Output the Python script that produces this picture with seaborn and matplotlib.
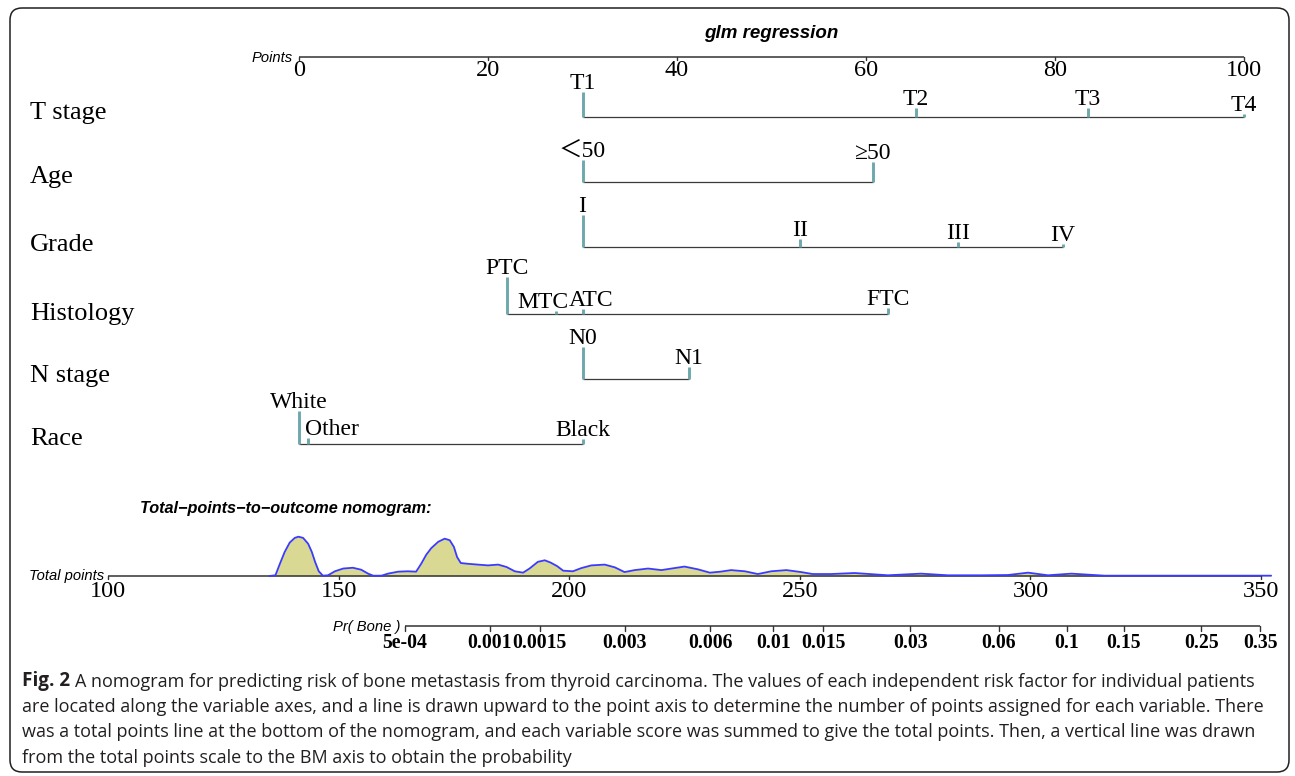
import numpy as np
import pandas as pd
import matplotlib
matplotlib.use("Agg")
import matplotlib.pyplot as plt
import matplotlib.transforms as mtrans
from matplotlib.patches import FancyBboxPatch
import seaborn as sns

# ---------------- data ----------------
title = "glm regression"
points_ticks = [0, 20, 40, 60, 80, 100]

var_names = ["T stage", "Age", "Grade", "Histology", "N stage", "Race"]
t_levels = ["T1", "T2", "T3", "T4"]
t_points = [30.0, 65.3, 83.5, 100.0]
t_freq = [0.65, 0.22, 0.24, 0.08]
age_levels = ["\uff1c50", "\u226550"]
age_points = [30.0, 60.7]
age_freq = [0.59, 0.54]
grade_levels = ["I", "II", "III", "IV"]
grade_points = [30.0, 53.0, 69.7, 80.8]
grade_freq = [0.84, 0.19, 0.11, 0.08]
hist_levels = ["PTC", "MTC", "ATC", "FTC"]
hist_points = [22.0, 27.2, 30.0, 62.3]
hist_freq = [1.0, 0.08, 0.11, 0.14]
n_levels = ["N0", "N1"]
n_points = [30.0, 41.3]
n_freq = [0.84, 0.32]
race_levels = ["White", "Other", "Black"]
race_points = [0.0, 1.0, 30.0]
race_freq = [0.89, 0.16, 0.14]

total_ticks = [100, 150, 200, 250, 300, 350]
prob_ticks = [5e-4, 0.001, 0.0015, 0.003, 0.006, 0.01, 0.015, 0.03,
              0.06, 0.1, 0.15, 0.25, 0.35]
prob_labels = ["5e-04", "0.001", "0.0015", "0.003", "0.006", "0.01", "0.015",
               "0.03", "0.06", "0.1", "0.15", "0.25", "0.35"]
lp_intercept = -13.79
lp_per_point = 0.03765

density_points = [135.0, 136.3, 137.2, 138.3, 139.4, 140.5, 141.3, 142.3, 143.4,
                  144.2, 144.9, 145.7, 146.6, 147.7, 149.2, 151.0, 153.1, 154.9,
                  156.4, 157.5, 159.3, 160.7, 162.9, 165.0, 166.8, 167.9, 169.0,
                  170.1, 171.6, 173.0, 174.1, 175.0, 175.7, 176.5, 178.1, 180.2,
                  182.4, 184.6, 186.4, 188.2, 190.0, 191.4, 193.2, 194.7, 196.0,
                  197.4, 198.7, 200.8, 202.6, 204.8, 207.7, 209.9, 212.0, 214.2,
                  217.1, 220.0, 222.2, 225.0, 227.9, 230.5, 232.8, 235.1, 238.1,
                  240.9, 243.8, 247.1, 250.3, 252.8, 256.8, 261.9, 269.1, 276.3,
                  282.1, 289.3, 295.1, 299.5, 303.8, 308.9, 316.1, 330.0, 352.2]
density_values = [0.0, 0.018, 0.29, 0.61, 0.85, 0.97, 1.0, 0.97, 0.82,
                  0.61, 0.36, 0.12, 0.008, 0.018, 0.12, 0.19, 0.21, 0.16,
                  0.06, 0.008, 0.008, 0.06, 0.11, 0.12, 0.11, 0.31, 0.54,
                  0.71, 0.87, 0.95, 0.91, 0.74, 0.48, 0.33, 0.31, 0.29,
                  0.27, 0.29, 0.23, 0.12, 0.085, 0.19, 0.36, 0.40, 0.34,
                  0.25, 0.135, 0.12, 0.20, 0.27, 0.29, 0.22, 0.10, 0.15,
                  0.19, 0.15, 0.19, 0.24, 0.17, 0.085, 0.11, 0.15, 0.12,
                  0.05, 0.12, 0.15, 0.10, 0.05, 0.05, 0.076, 0.018, 0.06,
                  0.018, 0.018, 0.025, 0.085, 0.018, 0.06, 0.008, 0.008, 0.008]

caption_bold = "Fig. 2"
caption_lines = [
    "A nomogram for predicting risk of bone metastasis from thyroid carcinoma. The values of each independent risk factor for individual patients",
    "are located along the variable axes, and a line is drawn upward to the point axis to determine the number of points assigned for each variable. There",
    "was a total points line at the bottom of the nomogram, and each variable score was summed to give the total points. Then, a vertical line was drawn",
    "from the total points scale to the BM axis to obtain the probability",
]

# ---------------- style / layout ----------------
W, H, DPI = 1295, 776, 100
sns.set_theme(style="white")
SERIF = ["Liberation Serif", "Noto Sans CJK SC", "DejaVu Serif"]
SANS = ["Liberation Sans", "DejaVu Sans"]
CAP = ["Open Sans", "DejaVu Sans"]
plt.rcParams["font.family"] = SERIF
plt.rcParams["text.color"] = "black"

TEAL = "#6da8ac"
AXC = "#333333"
FILL = "#d9d993"
BLUE = "#3b3bff"

fig = plt.figure(figsize=(W / DPI, H / DPI), dpi=DPI)
fig.patch.set_facecolor("white")


def px_axes(x0, x1, lo, hi, z=1):
    ax = fig.add_axes([x0 / W, 0, (x1 - x0) / W, 1], zorder=z)
    ax.set_xlim(lo, hi)
    ax.set_ylim(H, 0)
    ax.axis("off")
    ax.patch.set_alpha(0)
    return ax


def off(ax, dx):
    return mtrans.offset_copy(ax.transData, fig=fig, x=dx, y=0, units="dots")


ax_bg = px_axes(0, W, 0, W, z=0)
ax_pts = px_axes(299, 1244, 0, 100, z=2)
ax_tot = px_axes(108, 1261, 100, 350, z=3)

# border
ax_bg.add_patch(FancyBboxPatch((10, 8), 1279, 764,
                               boxstyle="round,pad=0,rounding_size=12",
                               fill=False, lw=1.1, ec="#231f20", clip_on=False))

# ---------------- points axis ----------------
ax_pts.text(50, 33, title, ha="center", va="center", family=SANS,
            weight="bold", style="italic", fontsize=13.5)
ax_pts.text(points_ticks[0], 61.5, "Points", transform=off(ax_pts, -6),
            ha="right", va="baseline", family=SANS, style="italic", fontsize=10.6)
ax_pts.plot([points_ticks[0], points_ticks[-1]], [57, 57], color=AXC, lw=1.1,
            solid_capstyle="butt", clip_on=False)
for v in points_ticks:
    ax_pts.plot([v, v], [57, 60], color=AXC, lw=1.0, clip_on=False)
    ax_pts.text(v, 76, str(v), ha="center", va="baseline", fontsize=17.5)

# ---------------- variable rows ----------------
rows = [
    (t_levels, t_points, t_freq),
    (age_levels, age_points, age_freq),
    (grade_levels, grade_points, grade_freq),
    (hist_levels, hist_points, hist_freq),
    (n_levels, n_points, n_freq),
    (race_levels, race_points, race_freq),
]
row_line_y = [116.5, 182, 246.5, 313.5, 378.5, 444]
row_label_base = [119, 183, 251, 320, 382, 445]
label_dx = {"MTC": -13, "ATC": 9, "Other": 23}
TICK_SCALE = 37

for name, (levels, pts, freq), ly, lb in zip(var_names, rows, row_line_y, row_label_base):
    ax_bg.text(30, lb, name, ha="left", va="baseline", fontsize=19)
    ax_pts.plot([min(pts), max(pts)], [ly, ly], color="#3a3a3a", lw=0.9,
                solid_capstyle="butt", clip_on=False)
    for lev, p, f in zip(levels, pts, freq):
        top = ly - f * TICK_SCALE
        ax_pts.plot([p, p], [ly, top], color=TEAL, lw=2.1,
                    solid_capstyle="butt", clip_on=False)
        ax_pts.text(p, top - 3, lev, transform=off(ax_pts, label_dx.get(lev, 0)),
                    ha="center", va="baseline", fontsize=17, family=SERIF)

# ---------------- total points ----------------
ax_bg.text(140, 508, "Total\u2212points\u2212to\u2212outcome nomogram:", ha="left",
           va="center", family=SANS, weight="bold", style="italic", fontsize=11.7)

base_y = 576
dens = pd.DataFrame({"pts": density_points,
                     "y": [base_y - v * 39.3 for v in density_values]})
ax_tot.fill_between(dens["pts"], base_y, dens["y"], color=FILL, lw=0, clip_on=False)
ax_tot.plot([total_ticks[0], total_ticks[-1]], [base_y, base_y], color=AXC, lw=1.1,
            solid_capstyle="butt", clip_on=False)
sns.lineplot(data=dens, x="pts", y="y", ax=ax_tot, color=BLUE, lw=1.3,
             estimator=None, sort=False)
for l in ax_tot.lines:
    l.set_clip_on(False)
for v in total_ticks:
    ax_tot.plot([v, v], [base_y, base_y + 3], color=AXC, lw=1.0, clip_on=False)
    ax_tot.text(v, 597, str(v), ha="center", va="baseline", fontsize=17.5)
ax_tot.text(total_ticks[0], 580, "Total points", transform=off(ax_tot, -4),
            ha="right", va="baseline", family=SANS, style="italic", fontsize=10.6)

# ---------------- probability axis ----------------
def prob_to_points(p):
    return (np.log(p / (1 - p)) - lp_intercept) / lp_per_point

pr_pts = [prob_to_points(p) for p in prob_ticks]
pr_y = 626
ax_tot.plot([pr_pts[0], pr_pts[-1]], [pr_y, pr_y], color=AXC, lw=1.1,
            solid_capstyle="butt", clip_on=False)
for x, lab in zip(pr_pts, prob_labels):
    ax_tot.plot([x, x], [pr_y, pr_y + 5], color=AXC, lw=1.0, clip_on=False)
    ax_tot.text(x, 648, lab, ha="center", va="baseline", fontsize=14.2, weight="bold")
ax_tot.text(pr_pts[0], 631, "Pr( Bone )", transform=off(ax_tot, -5), ha="right",
            va="baseline", family=SANS, style="italic", fontsize=10.6)

ax_tot.set_xlim(total_ticks[0], total_ticks[-1])
ax_tot.set_ylim(H, 0)
ax_tot.axis("off")

# ---------------- caption ----------------
cap_base = [686, 711.7, 737.4, 763.1]
CAPC = "#231f20"
CS = 13.0
t = ax_bg.text(22, cap_base[0], caption_bold, ha="left", va="baseline",
               family=CAP, weight="bold", fontsize=CS + 0.6, color=CAPC)
ax_bg.annotate(caption_lines[0], xy=(1, 0), xycoords=t, xytext=(5, 0),
               textcoords="offset pixels", ha="left", va="bottom",
               family=CAP, fontsize=CS, color=CAPC)
for line, yb in zip(caption_lines[1:], cap_base[1:]):
    ax_bg.text(22, yb, line, ha="left", va="baseline", family=CAP,
               fontsize=CS, color=CAPC)

fig.savefig("out.png", dpi=DPI, facecolor="white")
